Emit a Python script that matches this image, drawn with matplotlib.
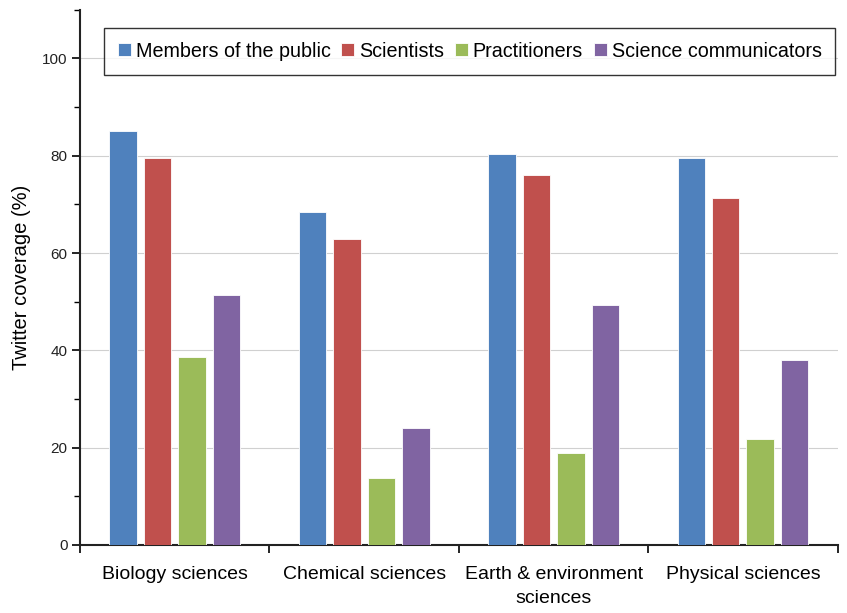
import numpy as np
import matplotlib.pyplot as plt
from matplotlib.ticker import MultipleLocator, FixedLocator

plt.rcParams['font.family'] = ['Liberation Sans', 'DejaVu Sans']

categories = ["Biology sciences", "Chemical sciences", "Earth & environment\nsciences", "Physical sciences"]
series = ["Members of the public", "Scientists", "Practitioners", "Science communicators"]
public = [85.0, 68.4, 80.3, 79.5]
scientists = [79.5, 62.8, 76.0, 71.3]
practitioners = [38.6, 13.8, 18.9, 21.8]
communicators = [51.3, 24.0, 49.4, 38.0]
colors = ["#4F81BD", "#C0504D", "#9BBB59", "#8064A2"]

fig = plt.figure(figsize=(8.47, 6.13), dpi=100)
ax = fig.add_axes([0.0945, 0.111, 0.8945, 0.873])

x = np.arange(len(categories))
width = 0.145
step = 0.182
for i, (vals, name) in enumerate(zip([public, scientists, practitioners, communicators], series)):
    ax.bar(x + (i - 1.5) * step, vals, width, color=colors[i], label=name,
           edgecolor="white", linewidth=0.6, zorder=3)

ax.set_xlim(-0.5, len(categories) - 0.5)
ax.set_ylim(0, 110)
ax.yaxis.set_major_locator(FixedLocator([0, 20, 40, 60, 80, 100]))
ax.yaxis.set_minor_locator(MultipleLocator(10))
ax.grid(axis="y", which="major", color="#d0d0d0", linewidth=0.8, zorder=0)

ax.set_xticks(x)
ax.set_xticklabels(categories, fontsize=14, linespacing=1.55, va="top")
ax.tick_params(axis="x", which="major", length=0, pad=15)
ax.set_xticks(np.arange(len(categories) + 1) - 0.5, minor=True)
ax.tick_params(axis="x", which="minor", length=6, width=1.2, direction="out")
ax.tick_params(axis="y", which="major", length=6, width=1.2, labelsize=11, pad=3, labelcolor="#222222")
ax.tick_params(axis="y", which="minor", length=4, width=1.0)

for s in ["top", "right"]:
    ax.spines[s].set_visible(False)
for s in ["left", "bottom"]:
    ax.spines[s].set_linewidth(1.5)
    ax.spines[s].set_color("#222222")

ax.set_ylabel("Twitter coverage (%)", fontsize=14.5, labelpad=8)

leg = ax.legend(loc="upper right", bbox_to_anchor=(0.997, 0.966), ncol=4, fontsize=14.2,
                frameon=True, fancybox=False, handlelength=0.65, handleheight=0.65,
                handletextpad=0.25, columnspacing=0.55, borderpad=0.7, borderaxespad=0)
leg.get_frame().set_edgecolor("black")
leg.get_frame().set_linewidth(1.0)

fig.savefig("out.png", dpi=100)
